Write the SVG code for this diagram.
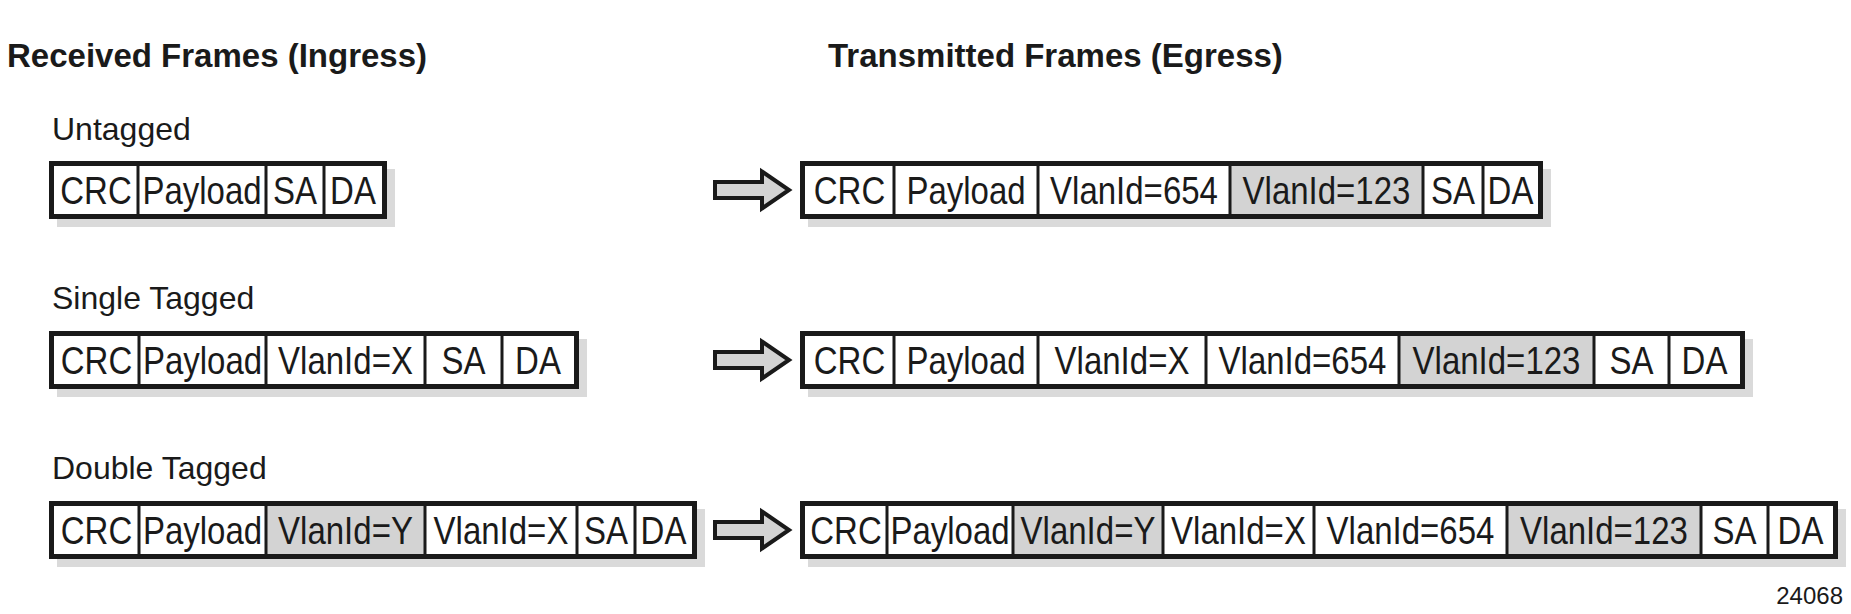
<svg xmlns="http://www.w3.org/2000/svg" width="1851" height="614" viewBox="0 0 1851 614">
<style>
.title{font-family:"Liberation Sans",Arial,sans-serif;font-weight:bold;font-size:33px;fill:#1a1a1a}
.lbl{font-family:"Liberation Sans",Arial,sans-serif;font-size:32px;fill:#1a1a1a}
.t{font-family:"Liberation Sans",Arial,sans-serif;font-size:33px;fill:#1a1a1a;text-anchor:middle}
.num{font-family:"Liberation Sans",Arial,sans-serif;font-size:24px;fill:#1a1a1a;text-anchor:end}
.shadow{fill:#dadada}
.bg{fill:#ffffff}
.grey{fill:#d3d3d3}
.div{stroke:#1a1a1a;stroke-width:3;fill:none}
.outline{stroke:#1a1a1a;stroke-width:5;fill:none}
.arrow{fill:#d4d4d4;stroke:#1a1a1a;stroke-width:4;stroke-linejoin:miter}
</style>
<rect width="1851" height="614" fill="#ffffff"/>
<text class="title" x="7" y="67">Received Frames (Ingress)</text>
<text class="title" x="828" y="67">Transmitted Frames (Egress)</text>
<text class="lbl" x="52" y="140">Untagged</text>
<text class="lbl" x="52" y="309">Single Tagged</text>
<text class="lbl" x="52" y="479">Double Tagged</text>

<g id="in-untagged">
<rect class="shadow" x="57" y="169" width="338" height="58"/>
<rect class="bg" x="49" y="161" width="338" height="58"/>
<path class="div" d="M138,161V219M266,161V219M324,161V219"/>
<rect class="outline" x="51.5" y="163.5" width="333" height="53"/>
<g transform="translate(0,204) scale(1,1.18)">
<text class="t" x="96">CRC</text>
<text class="t" x="202">Payload</text>
<text class="t" x="295">SA</text>
<text class="t" x="353">DA</text>
</g>
</g>

<g id="in-single">
<rect class="shadow" x="57" y="339" width="530" height="58"/>
<rect class="bg" x="49" y="331" width="530" height="58"/>
<path class="div" d="M139,331V389M266,331V389M425,331V389M502,331V389"/>
<rect class="outline" x="51.5" y="333.5" width="525" height="53"/>
<g transform="translate(0,374) scale(1,1.18)">
<text class="t" x="96.5">CRC</text>
<text class="t" x="202.5">Payload</text>
<text class="t" x="345.5">VlanId=X</text>
<text class="t" x="463.5">SA</text>
<text class="t" x="538">DA</text>
</g>
</g>

<g id="in-double">
<rect class="shadow" x="57" y="509" width="648" height="58"/>
<rect class="bg" x="49" y="501" width="648" height="58"/>
<rect class="grey" x="266" y="501" width="159" height="58"/>
<path class="div" d="M139,501V559M266,501V559M425,501V559M577,501V559M635,501V559"/>
<rect class="outline" x="51.5" y="503.5" width="643" height="53"/>
<g transform="translate(0,544) scale(1,1.18)">
<text class="t" x="96.5">CRC</text>
<text class="t" x="202.5">Payload</text>
<text class="t" x="345.5">VlanId=Y</text>
<text class="t" x="501">VlanId=X</text>
<text class="t" x="606">SA</text>
<text class="t" x="663.5">DA</text>
</g>
</g>

<g id="out-untagged">
<rect class="shadow" x="808" y="169" width="743" height="58"/>
<rect class="bg" x="800" y="161" width="743" height="58"/>
<rect class="grey" x="1230" y="161" width="193" height="58"/>
<path class="div" d="M894,161V219M1038,161V219M1230,161V219M1423,161V219M1483,161V219"/>
<rect class="outline" x="802.5" y="163.5" width="738" height="53"/>
<g transform="translate(0,204) scale(1,1.18)">
<text class="t" x="849.5">CRC</text>
<text class="t" x="966">Payload</text>
<text class="t" x="1134">VlanId=654</text>
<text class="t" x="1326.5">VlanId=123</text>
<text class="t" x="1453">SA</text>
<text class="t" x="1510.5">DA</text>
</g>
</g>

<g id="out-single">
<rect class="shadow" x="808" y="339" width="945" height="58"/>
<rect class="bg" x="800" y="331" width="945" height="58"/>
<rect class="grey" x="1399" y="331" width="195" height="58"/>
<path class="div" d="M894,331V389M1038,331V389M1206,331V389M1399,331V389M1594,331V389M1669,331V389"/>
<rect class="outline" x="802.5" y="333.5" width="940" height="53"/>
<g transform="translate(0,374) scale(1,1.18)">
<text class="t" x="849.5">CRC</text>
<text class="t" x="966">Payload</text>
<text class="t" x="1122">VlanId=X</text>
<text class="t" x="1302.5">VlanId=654</text>
<text class="t" x="1496.5">VlanId=123</text>
<text class="t" x="1631.5">SA</text>
<text class="t" x="1704.5">DA</text>
</g>
</g>

<g id="out-double">
<rect class="shadow" x="808" y="509" width="1038" height="58"/>
<rect class="bg" x="800" y="501" width="1038" height="58"/>
<rect class="grey" x="1013" y="501" width="150" height="58"/>
<rect class="grey" x="1507" y="501" width="194" height="58"/>
<path class="div" d="M887,501V559M1013,501V559M1163,501V559M1314,501V559M1507,501V559M1701,501V559M1768,501V559"/>
<rect class="outline" x="802.5" y="503.5" width="1033" height="53"/>
<g transform="translate(0,544) scale(1,1.18)">
<text class="t" x="846">CRC</text>
<text class="t" x="950">Payload</text>
<text class="t" x="1088">VlanId=Y</text>
<text class="t" x="1238.5">VlanId=X</text>
<text class="t" x="1410.5">VlanId=654</text>
<text class="t" x="1604">VlanId=123</text>
<text class="t" x="1734.5">SA</text>
<text class="t" x="1800.5">DA</text>
</g>
</g>

<g id="connectors">
<path class="arrow" d="M715,182H762V171.5L789,190L762,208.5V198H715Z"/>
<path class="arrow" d="M715,352H762V341.5L789,360L762,378.5V368H715Z"/>
<path class="arrow" d="M715,522H762V511.5L789,530L762,548.5V538H715Z"/>
</g>

<text class="num" x="1843" y="604">24068</text>
</svg>
